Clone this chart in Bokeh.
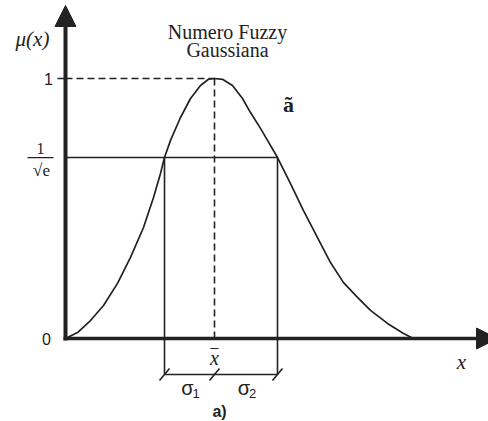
from bokeh.plotting import figure
from bokeh.models import Range1d, Arrow, NormalHead
from bokeh.core.properties import value
from bokeh.embed import file_html
from bokeh.resources import INLINE

# Membership function of a Gaussian fuzzy number (x in arbitrary units, mu in [0, 1])
curve_x = [0.0, 1.2, 2.5, 3.8, 5.2, 6.5, 7.8, 8.8, 9.5, 9.9, 10.5, 11.5, 12.5, 13.5, 14.3,
           14.9,
           15.7, 16.7, 17.7, 18.5, 19.5, 20.2, 21.2, 22.5, 23.8, 25.2, 26.5, 27.8, 29.2,
           30.5, 32.2, 33.8, 34.8]
curve_mu = [0.0, 0.023, 0.069, 0.127, 0.212, 0.312, 0.427, 0.542, 0.635, 0.696, 0.762,
            0.85, 0.923, 0.973, 0.997,
            1.0,
            0.997, 0.973, 0.923, 0.869, 0.808, 0.762, 0.696, 0.596, 0.492, 0.388, 0.292,
            0.215, 0.158, 0.108, 0.058, 0.019, 0.0]

x_bar = 14.9        # centre of the fuzzy number
x_left = 9.9        # x_bar - sigma1
x_right = 21.2      # x_bar + sigma2
mu_peak = 1.0
mu_sigma = 0.696    # level 1/sqrt(e)

y_tick_labels = ["0", "1"]

INK = "#222222"

# screen helpers: pixel position -> data position
def px_x(px):
    return (px - 65) / 10.0

def px_y(py):
    return (338 - py) / 260.0

def dx(n):
    return n / 10.0

def dy(n):
    return n / 260.0

p = figure(width=488, height=421, output_backend="svg", toolbar_location=None,
           x_range=Range1d(px_x(0), px_x(488)), y_range=Range1d(px_y(421), px_y(0)),
           x_axis_location=None, y_axis_location=None, min_border=0,
           outline_line_color=None, background_fill_color="white")
p.grid.visible = False

# guide lines to the peak
p.line([0, x_bar], [mu_peak, mu_peak], line_dash="7 4", line_width=1.6, line_color=INK)
p.line([x_bar, x_bar], [mu_peak, 0], line_dash="7 4", line_width=1.6, line_color=INK)

# 1/sqrt(e) level and the spread markers
bracket_y = px_y(374)
p.line([0, x_right], [mu_sigma, mu_sigma], line_width=1.6, line_color=INK)
p.segment(x0=[x_left, x_right], y0=[mu_sigma, mu_sigma],
          x1=[x_left, x_right], y1=[bracket_y, bracket_y], line_width=1.6, line_color=INK)
p.line([x_left, x_right], [bracket_y, bracket_y], line_width=1.6, line_color=INK)
marks = [x_left, x_bar, x_right]
p.segment(x0=[m - dx(5) for m in marks], y0=[bracket_y - dy(6)] * 3,
          x1=[m + dx(5) for m in marks], y1=[bracket_y + dy(6)] * 3,
          line_width=1.6, line_color=INK)

# membership curve
p.line(curve_x, curve_mu, line_width=1.7, line_color=INK, line_join="round")

# axes with arrow heads
p.add_layout(Arrow(end=NormalHead(size=21, fill_color=INK, line_color=INK),
                   x_start=0, y_start=px_y(340), x_end=0, y_end=px_y(5),
                   line_width=4, line_color=INK))
p.add_layout(Arrow(end=NormalHead(size=21, fill_color=INK, line_color=INK),
                   x_start=px_x(63), y_start=0, x_end=px_x(497), y_end=0,
                   line_width=3.5, line_color=INK))

# tick at mu = 1
p.segment(x0=[px_x(57)], y0=[mu_peak], x1=[0], y1=[mu_peak], line_width=1.6, line_color=INK)

sans = value("Liberation Sans")
serif = value("Liberation Serif")

p.text(x=[px_x(48), px_x(46)], y=[mu_peak, 0], text=[y_tick_labels[1], y_tick_labels[0]],
       text_font=sans, text_font_size="16px", text_align="center",
       text_baseline="middle", text_color=INK)

# fraction 1 / sqrt(e)
p.text(x=[px_x(40)], y=[px_y(148)], text=["1"], text_font=serif, text_font_size="16px",
       text_align="center", text_baseline="middle", text_color=INK)
p.segment(x0=[px_x(27)], y0=[mu_sigma], x1=[px_x(53)], y1=[mu_sigma],
          line_width=1.3, line_color=INK)
p.text(x=[px_x(41)], y=[px_y(170)], text=["√e"], text_font=serif, text_font_size="17px",
       text_align="center", text_baseline="middle", text_color=INK)

# axis names
p.text(x=[px_x(32)], y=[px_y(38)], text=["μ(x)"], text_font=serif, text_font_size="21px",
       text_font_style="italic", text_align="center", text_baseline="middle", text_color=INK)
p.text(x=[px_x(461)], y=[px_y(361)], text=["x"], text_font=serif, text_font_size="21px",
       text_font_style="italic", text_align="center", text_baseline="middle", text_color=INK)

# title
p.text(x=[px_x(227), px_x(227)], y=[px_y(31), px_y(49)], text=["Numero Fuzzy", "Gaussiana"],
       text_font=serif, text_font_size="20px", text_align="center",
       text_baseline="middle", text_color=INK)

# curve name
p.text(x=[px_x(288)], y=[px_y(104)], text=["ã"], text_font=serif, text_font_size="22px",
       text_font_style="bold", text_align="center", text_baseline="middle", text_color=INK)

# centre x-bar
p.text(x=[x_bar], y=[px_y(357)], text=["x"], text_font=serif, text_font_size="20px",
       text_font_style="italic", text_align="center", text_baseline="middle", text_color=INK)
p.segment(x0=[x_bar - dx(4)], y0=[px_y(348)], x1=[x_bar + dx(4)], y1=[px_y(348)],
          line_width=1.2, line_color=INK)

# spreads
p.text(x=[(x_left + x_bar) / 2 - dx(2), (x_bar + x_right) / 2 - dx(2)], y=[px_y(387)] * 2,
       text=["σ", "σ"], text_font=sans, text_font_size="20px", text_align="center",
       text_baseline="middle", text_color=INK)
p.text(x=[(x_left + x_bar) / 2 + dx(6.5), (x_bar + x_right) / 2 + dx(6.5)], y=[px_y(393)] * 2,
       text=["1", "2"], text_font=sans, text_font_size="13px", text_align="center",
       text_baseline="middle", text_color=INK)
p.text(x=[px_x(219)], y=[px_y(411)], text=["a)"], text_font=sans, text_font_size="16px",
       text_font_style="bold", text_align="center", text_baseline="middle", text_color=INK)

open("out.html", "w").write(file_html(p, INLINE))
